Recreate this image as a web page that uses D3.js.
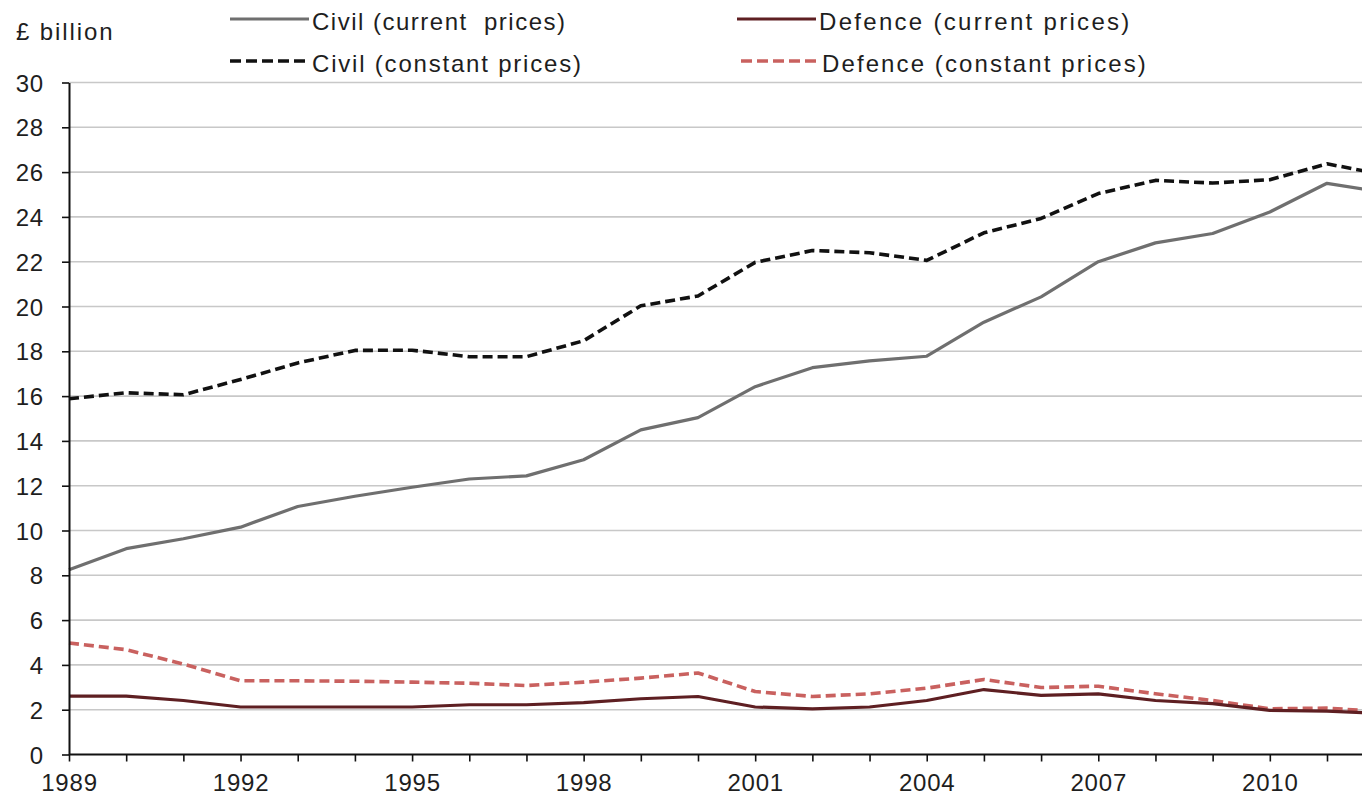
<!DOCTYPE html>
<html>
<head>
<meta charset="utf-8">
<script src="https://cdn.jsdelivr.net/npm/d3@7"></script>
<style>
  html, body { margin: 0; padding: 0; background: #fff; }
  svg { display: block; }
  text { font-family: "Liberation Sans", Arial, sans-serif; fill: #1e1e1e; }
</style>
</head>
<body>
<svg id="chart" width="1362" height="798"></svg>
<script>
// ---- data ----
const years = [1989,1990,1991,1992,1993,1994,1995,1996,1997,1998,1999,2000,
               2001,2002,2003,2004,2005,2006,2007,2008,2009,2010,2011,2012];
const civilCurrent  = [8.25,9.19,9.63,10.15,11.07,11.53,11.93,12.3,12.44,13.16,14.49,15.04,
                       16.42,17.27,17.57,17.78,19.3,20.43,22.0,22.84,23.26,24.22,25.5,25.1];
const civilConstant = [15.88,16.15,16.06,16.74,17.48,18.04,18.05,17.76,17.76,18.47,20.03,20.47,
                       21.97,22.5,22.4,22.06,23.29,23.93,25.04,25.63,25.51,25.66,26.37,25.88];
const defenceCurrent  = [2.61,2.61,2.41,2.12,2.12,2.12,2.12,2.22,2.22,2.32,2.49,2.59,
                         2.12,2.04,2.12,2.41,2.9,2.64,2.71,2.41,2.27,1.97,1.94,1.83];
const defenceConstant = [4.98,4.68,4.04,3.29,3.29,3.27,3.23,3.18,3.08,3.23,3.41,3.64,
                         2.81,2.59,2.71,2.96,3.35,2.99,3.05,2.71,2.41,2.04,2.07,1.91];
const yTicks = [0,2,4,6,8,10,12,14,16,18,20,22,24,26,28,30];
const xLabelYears = [1989,1992,1995,1998,2001,2004,2007,2010];
const seriesNames = ["Civil (current  prices)", "Defence (current prices)",
                     "Civil (constant prices)", "Defence (constant prices)"];
const yUnitLabel = "£ billion";

// ---- layout ----
const FONT = "'Liberation Sans', Arial, sans-serif";
const svg = d3.select("#chart");
const x = d3.scaleLinear().domain([1989, 2011]).range([69, 1327]);
const y = d3.scaleLinear().domain([0, 30]).range([754.5, 82.5]);
const plotRight = 1362;

const series = [
  { name: seriesNames[0], values: civilCurrent,   color: "#6f6f6f", width: 3.2, dash: null },
  { name: seriesNames[1], values: defenceCurrent, color: "#5e1f22", width: 3.2, dash: null },
  { name: seriesNames[2], values: civilConstant,  color: "#111111", width: 3.6, dash: "10,5" },
  { name: seriesNames[3], values: defenceConstant,color: "#c9615f", width: 3.6, dash: "10,5" }
];

// gridlines
svg.append("g").selectAll("line").data(yTicks.filter(d => d > 0)).join("line")
  .attr("x1", x(1989)).attr("x2", plotRight)
  .attr("y1", d => y(d)).attr("y2", d => y(d))
  .attr("stroke", "#c8c8c8").attr("stroke-width", 1.6);

// series lines
const line = d3.line().x((d, i) => x(years[i])).y(d => y(d)).curve(d3.curveLinear);
const drawOrder = [series[3], series[1], series[2], series[0]];
svg.append("g").selectAll("path").data(drawOrder).join("path")
  .attr("d", s => line(s.values))
  .attr("fill", "none")
  .attr("stroke", s => s.color)
  .attr("stroke-width", s => s.width)
  .attr("stroke-dasharray", s => s.dash)
  .attr("stroke-linejoin", "round");

// y axis
const yAxis = d3.axisLeft(y).tickValues(yTicks).tickSize(7).tickSizeOuter(0).tickPadding(18);
const gy = svg.append("g").attr("transform", `translate(${x(1989)},0)`).call(yAxis);
gy.select(".domain").attr("stroke", "#111").attr("stroke-width", 2);
gy.selectAll(".tick line").attr("stroke", "#111").attr("stroke-width", 1.6);
gy.selectAll(".tick text").attr("font-size", 24).attr("letter-spacing", "0.8px")
  .attr("fill", "#1e1e1e").attr("dy", "0.36em").style("font-family", FONT);

// x axis
const xAxis = d3.axisBottom(x).tickValues(years.filter(d => d <= 2011))
  .tickFormat(d => xLabelYears.includes(d) ? String(d) : "")
  .tickSize(7).tickSizeOuter(0).tickPadding(12);
const gx = svg.append("g").attr("transform", `translate(0,${y(0)})`).call(xAxis);
gx.select(".domain").remove();
gx.append("line").attr("x1", x(1989)).attr("x2", plotRight).attr("y1", 0).attr("y2", 0)
  .attr("stroke", "#111").attr("stroke-width", 2);
gx.selectAll(".tick line").attr("stroke", "#111").attr("stroke-width", 1.6);
gx.selectAll(".tick text").attr("font-size", 24).attr("letter-spacing", "0.8px")
  .attr("fill", "#1e1e1e").style("font-family", FONT);

// unit label
svg.append("text").attr("x", 16).attr("y", 40).attr("font-size", 24)
  .attr("letter-spacing", "1.9px").text(yUnitLabel);

// legend
const legendPos = [
  { lx1: 230, lx2: 309, tx: 312, ly: 19, ty: 30 },
  { lx1: 737, lx2: 816, tx: 819, ly: 19, ty: 30 },
  { lx1: 230, lx2: 309, tx: 312, ly: 61, ty: 71.5 },
  { lx1: 741, lx2: 818, tx: 822, ly: 61, ty: 71.5 }
];
const legendSpacing = ["1.5px", "2.3px", "1.8px", "2.1px"];
const lg = svg.append("g").selectAll("g").data(series).join("g");
lg.append("line")
  .attr("x1", (s, i) => legendPos[i].lx1).attr("x2", (s, i) => legendPos[i].lx2)
  .attr("y1", (s, i) => legendPos[i].ly).attr("y2", (s, i) => legendPos[i].ly)
  .attr("stroke", s => s.color).attr("stroke-width", s => s.width)
  .attr("stroke-dasharray", s => s.dash ? "11,5" : null);
lg.append("text")
  .attr("x", (s, i) => legendPos[i].tx).attr("y", (s, i) => legendPos[i].ty)
  .attr("font-size", 24).attr("letter-spacing", (s, i) => legendSpacing[i])
  .style("white-space", "pre")
  .text(s => s.name);
</script>
</body>
</html>
